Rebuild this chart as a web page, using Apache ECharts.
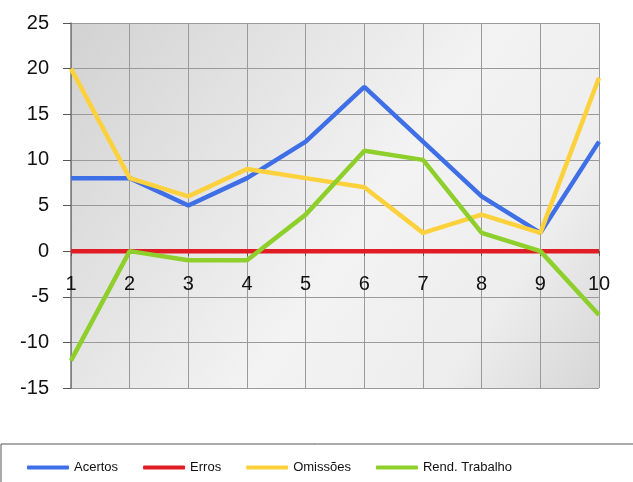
<!DOCTYPE html>
<html>
<head>
<meta charset="utf-8">
<script src="https://cdn.jsdelivr.net/npm/echarts@6/dist/echarts.min.js"></script>
<style>
  html, body { margin: 0; padding: 0; background: #fff; }
  #chart { width: 633px; height: 482px; }
</style>
</head>
<body>
<div id="chart"></div>
<script>
// categories and series
const categories = ["1", "2", "3", "4", "5", "6", "7", "8", "9", "10"];
const acertos = [8, 8, 5, 8, 12, 18, 12, 6, 2, 12];
const erros = [0, 0, 0, 0, 0, 0, 0, 0, 0, 0];
const omissoes = [20, 8, 6, 9, 8, 7, 2, 4, 2, 19];
const rendTrabalho = [-12, 0, -1, -1, 4, 11, 10, 2, 0, -7];

const yMin = -15, yMax = 25;
const gridTop = 23, gridBottom = 94, chartHeight = 482;
// put the category axis on the zero line
const plotHeight = chartHeight - gridTop - gridBottom;
const zeroOffset = -plotHeight * (0 - yMin) / (yMax - yMin);

const chart = echarts.init(document.getElementById("chart"));

const lineSeries = (name, data, color) => ({
  name: name,
  type: "line",
  data: data,
  symbol: "none",
  color: color,
  lineStyle: { width: 4.5, color: color }
});

chart.setOption({
  animation: false,
  textStyle: { fontFamily: "Liberation Sans, Arial, sans-serif" },
  grid: {
    left: 71, right: 34, top: gridTop, bottom: gridBottom,
    show: true,
    borderWidth: 0,
    backgroundColor: {
      type: "linear", x: 0, y: 0, x2: 1, y2: 1,
      colorStops: [
        { offset: 0, color: "#d2d2d2" },
        { offset: 0.55, color: "#f3f3f3" },
        { offset: 0.8, color: "#ededed" },
        { offset: 1, color: "#d6d6d6" }
      ]
    }
  },
  legend: {
    bottom: 3, left: 22,
    itemGap: 25,
    itemWidth: 42, itemHeight: 4,
    icon: "roundRect",
    textStyle: { fontSize: 13, color: "#111" },
    data: ["Acertos", "Erros", "Omissões", "Rend. Trabalho"]
  },
  graphic: [{
    type: "rect",
    shape: { x: 1, y: 444, width: 700, height: 60 },
    style: { fill: "none", stroke: "#555", lineWidth: 1 },
    silent: true
  }],
  xAxis: [{
    type: "category",
    data: categories,
    boundaryGap: false,
    axisLine: { show: false },
    axisTick: { show: false },
    axisLabel: { show: false },
    splitLine: { show: true, lineStyle: { color: "#9a9a9a", width: 1 } }
  }, {
    type: "category",
    data: categories,
    boundaryGap: false,
    position: "bottom",
    offset: zeroOffset,
    axisLine: { show: false },
    axisTick: { show: true, length: 5, lineStyle: { color: "#555" } },
    axisLabel: { fontSize: 20, color: "#111", margin: 23 },
    splitLine: { show: false }
  }],
  yAxis: {
    type: "value",
    min: yMin, max: yMax, interval: 5,
    axisLine: { show: true, lineStyle: { color: "#777", width: 1.5 } },
    axisTick: { show: true, length: 8, lineStyle: { color: "#555" } },
    axisLabel: { fontSize: 20, color: "#111", margin: 22 },
    splitLine: { show: true, lineStyle: { color: "#9a9a9a", width: 1 } }
  },
  series: [
    lineSeries("Acertos", acertos, "#3f6fe6"),
    lineSeries("Erros", erros, "#e01c24"),
    lineSeries("Omissões", omissoes, "#fdd13c"),
    lineSeries("Rend. Trabalho", rendTrabalho, "#8fcf2b")
  ]
});
</script>
</body>
</html>
